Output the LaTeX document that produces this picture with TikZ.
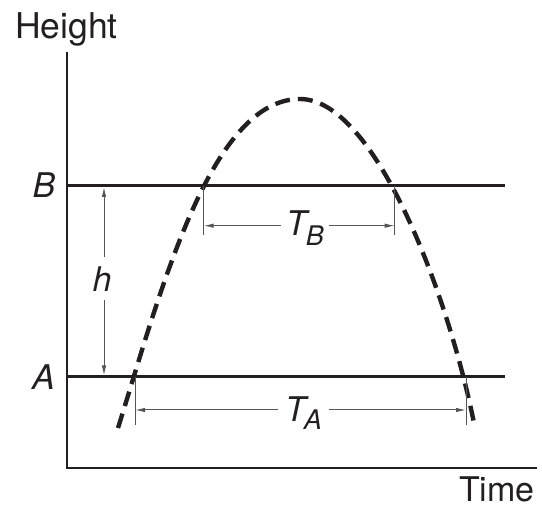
\documentclass[tikz,border=0pt]{standalone}
\usepackage{fontspec}
\setmainfont{TeX Gyre Heros}
\usetikzlibrary{arrows.meta}
\definecolor{ink}{HTML}{231F20}
\definecolor{thin}{HTML}{555555}
\begin{document}
\begin{tikzpicture}[x=1pt,y=-1pt,
  axisline/.style={line width=2.6pt, draw=ink, line join=miter},
  levelline/.style={line width=2.6pt, draw=ink},
  traj/.style={line width=4.4pt, draw=ink, dash pattern=on 15pt off 8pt},
  extline/.style={line width=1pt, draw=thin},
  arr/.style={line width=1pt, draw=thin, -{Latex[length=10pt,width=4.5pt]}, color=thin},
  lbl/.style={font=\fontsize{34}{40}\selectfont, text=ink, inner sep=0pt},
  biglbl/.style={font=\fontsize{35.5}{40}\selectfont, text=ink, inner sep=0pt},
  sublbl/.style={font=\fontsize{34}{40}\selectfont\itshape, text=ink, inner sep=0pt, outer sep=5pt},
]
\useasboundingbox (0,0) rectangle (542,508);
% axes
\coordinate (ytop) at (67,52);
\coordinate (orig) at (67,468);
\coordinate (xend) at (537,468);
\draw[axisline] (ytop) -- (orig) -- (xend);
% levels
\coordinate (bl) at (67,185.7);
\coordinate (br) at (505,185.7);
\coordinate (al) at (67,376.7);
\coordinate (ar) at (505,376.7);
\draw[levelline] (bl) -- (br);
\draw[levelline] (al) -- (ar);
% labels
\node[biglbl, anchor=base] (height) at (66.5,39) {Height};
\node[lbl, anchor=base west] (time) at (459,502) {Time};
\node[lbl] (blab) at (44,185) {\itshape B};
\node[lbl] (alab) at (43.5,377) {\itshape A};
\node[lbl] (hlab) at (102,279) {\itshape h};
% h arrows
\coordinate (htop) at (104,257);
\coordinate (hbot) at (104,300);
\coordinate (hb) at (104,187);
\coordinate (ha) at (104,375.5);
\draw[arr] (htop) -- (hb);
\draw[arr] (hbot) -- (ha);
% trajectory
\coordinate (p0) at (118,428);
\coordinate (peak) at (300,99);
\coordinate (p6) at (475,428);
\draw[traj] (p0) .. controls (160,294) and (210,99) .. (peak)
  .. controls (375,99) and (449,295.4) .. (p6);
% T_B
\coordinate (tbl0) at (203.7,185.7);
\coordinate (tbl1) at (203.7,235);
\coordinate (tbr0) at (394.7,185.7);
\coordinate (tbr1) at (394.7,235);
\draw[extline] (tbl0) -- (tbl1);
\draw[extline] (tbr0) -- (tbr1);
\node[sublbl, anchor=base west] (tb) at (281,236) {T\kern-1pt\raisebox{-10pt}{\fontsize{27}{27}\selectfont B}};
\coordinate (tbl) at (203.7,225.7);
\coordinate (tbr) at (394.7,225.7);
\draw[arr] (tb.west |- tbl) -- (tbl);
\draw[arr] (tb.east |- tbr) -- (tbr);
% T_A
\coordinate (tal0) at (135,376.7);
\coordinate (tal1) at (135,425);
\coordinate (tar0) at (466,376.7);
\coordinate (tar1) at (466,425);
\draw[extline] (tal0) -- (tal1);
\draw[extline] (tar0) -- (tar1);
\node[sublbl, anchor=base west, outer sep=7pt] (ta) at (278,421) {T\kern-2pt\raisebox{-9pt}{\fontsize{27}{27}\selectfont A}};
\coordinate (tal) at (135,410);
\coordinate (tar) at (466,410);
\draw[arr] (ta.west |- tal) -- (tal);
\draw[arr] (ta.east |- tar) -- (tar);
\end{tikzpicture}
\end{document}
